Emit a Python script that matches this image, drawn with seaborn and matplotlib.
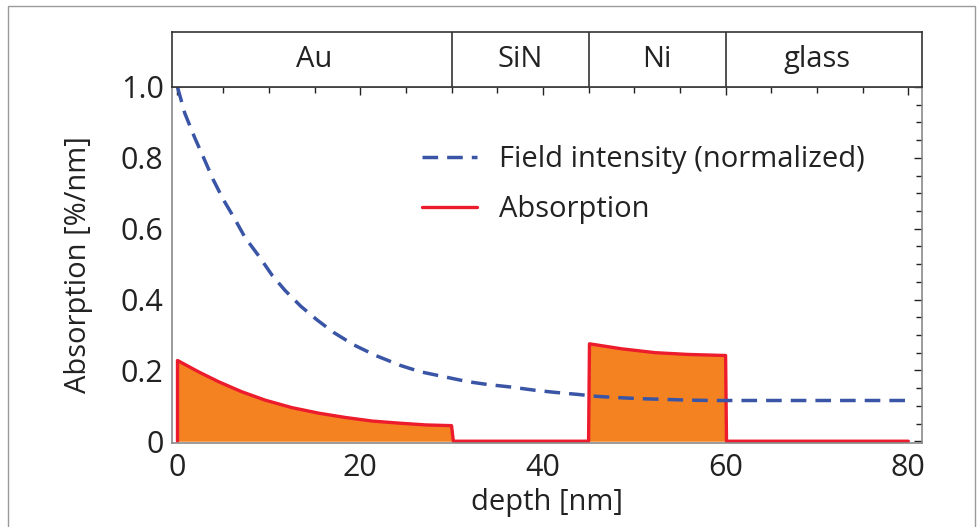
import numpy as np
import matplotlib.pyplot as plt
import seaborn as sns
import pandas as pd
from matplotlib.ticker import MultipleLocator
from matplotlib.patches import Rectangle

# field intensity (normalized)
field_x = [0, 0.8, 1.9, 2.8, 3.9, 5.0, 6.3, 7.4, 8.9, 10.4, 11.8, 13.5, 15.3, 17.1,
           19.3, 21.7, 24.4, 26.6, 29.2, 31.8, 34.0, 36.5, 39.1, 41.3, 43.9, 45.7,
           48.3, 50.8, 53.4, 55.9, 58.5, 61.0, 70.0, 80.0]
field_y = [1.0, 0.926, 0.856, 0.804, 0.739, 0.683, 0.626, 0.575, 0.523, 0.467, 0.425,
           0.381, 0.342, 0.307, 0.272, 0.242, 0.214, 0.196, 0.182, 0.168, 0.160, 0.153,
           0.144, 0.138, 0.132, 0.127, 0.123, 0.120, 0.118, 0.116, 0.115, 0.115, 0.115, 0.115]

# absorption profile [%/nm]
abs_x = [0, 0, 2.3, 4.5, 7.0, 9.6, 12.5, 15.5, 18.4, 21.3, 24.3, 27.2, 30, 30.2,
         45, 45.1, 48.6, 52.3, 55.9, 60, 60.1, 80]
abs_y = [0, 0.228, 0.196, 0.168, 0.140, 0.116, 0.095, 0.079, 0.067, 0.057, 0.051,
         0.046, 0.044, 0, 0, 0.275, 0.261, 0.250, 0.245, 0.242, 0, 0]

layer_names = ["Au", "SiN", "Ni", "glass"]
layer_edges = [0, 30, 45, 60, 80]

sns.set_theme(style="white")
plt.rcParams['font.family'] = ['Open Sans', 'DejaVu Sans']

fig = plt.figure(figsize=(9.79, 5.27), dpi=100)
ax = fig.add_axes([172 / 979, 84 / 527, 750 / 979, 356 / 527])
top = fig.add_axes([172 / 979, 440 / 527, 750 / 979, 55 / 527])

blue = "#3a55a6"
red = "#ec1c2c"
orange = "#f58220"
txt = "#222222"

ax.fill_between(abs_x, abs_y, color=orange, lw=0, zorder=1)
df_abs = pd.DataFrame({"x": abs_x, "y": abs_y})
df_field = pd.DataFrame({"x": field_x, "y": field_y})
sns.lineplot(data=df_field, x="x", y="y", ax=ax, color=blue, lw=2.5,
             sort=False, estimator=None, label="Field intensity (normalized)", zorder=3)
ax.lines[-1].set_dashes((4.5, 2.6))
sns.lineplot(data=df_abs, x="x", y="y", ax=ax, color=red, lw=2.4,
             sort=False, estimator=None, label="Absorption", zorder=2)

ax.set_xlim(-0.6, 81.5)
ax.set_ylim(-0.005, 1.0)
ax.xaxis.set_major_locator(MultipleLocator(20))
ax.xaxis.set_minor_locator(MultipleLocator(5))
ax.yaxis.set_minor_locator(MultipleLocator(0.05))
ax.set_yticks([0, 0.2, 0.4, 0.6, 0.8, 1.0])
ax.set_yticklabels(["0", "0.2", "0.4", "0.6", "0.8", "1.0"])
ax.tick_params(which="both", direction="in", top=True, right=True,
               labelsize=22, colors=txt, width=1)
ax.tick_params(which="major", length=6)
ax.tick_params(axis="x", pad=7)
ax.tick_params(axis="y", pad=6)
ax.tick_params(which="minor", length=4, left=False, bottom=False)
for s in ax.spines.values():
    s.set_color("#8a8a8a")
    s.set_linewidth(1.2)
ax.set_xlabel("depth [nm]", fontsize=21, labelpad=4, color=txt)
ax.set_ylabel("Absorption [%/nm]", fontsize=21, labelpad=20, color=txt)

leg = ax.legend(loc="upper left", bbox_to_anchor=(0.298, 0.91), frameon=False,
                fontsize=21, handlelength=1.9, handletextpad=0.75, labelspacing=0.72)
for t in leg.get_texts():
    t.set_color(txt)

# layer bar
top.set_xlim(-0.6, 81.5)
top.set_ylim(0, 1)
top.set_xticks([])
top.set_yticks([])
for s in top.spines.values():
    s.set_color("#333333")
    s.set_linewidth(1.2)
for e in layer_edges[1:-1]:
    top.axvline(e, color="#333333", lw=1.2)
for name, a, b in zip(layer_names, layer_edges[:-1], layer_edges[1:]):
    top.text((a + b) / 2, 0.5, name, ha="center", va="center", fontsize=21, color=txt)

fig.patches.append(Rectangle((8 / 979, -0.1), 967 / 979, 1.1 - 6 / 527,
                             transform=fig.transFigure, fill=False,
                             edgecolor="#9a9a9a", lw=1))

plt.savefig("out.png", dpi=100)
